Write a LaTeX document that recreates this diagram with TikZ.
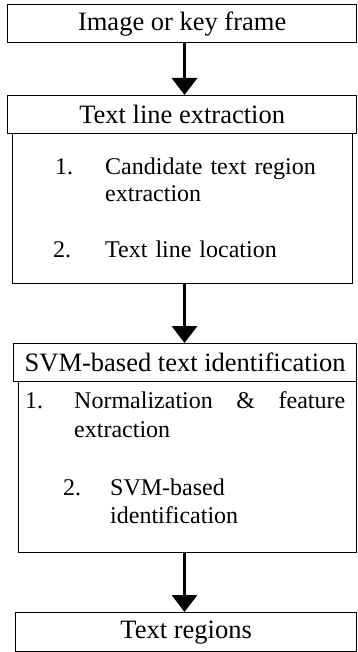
\documentclass[tikz,border=0pt]{standalone}
\usepackage{fontspec}
\setmainfont{Liberation Serif}
\usetikzlibrary{arrows.meta}

\tikzset{
  box/.style={draw, line width=1.3pt, inner sep=0pt, anchor=north west,
    font=\fontsize{26.5}{30}\selectfont},
  itemnum/.style={anchor=base west, inner sep=0pt, text width=30pt,
    font=\fontsize{24}{27}\selectfont},
  itemtxt/.style={anchor=base west, inner sep=0pt, align=left,
    font=\fontsize{24}{27}\selectfont},
  flow/.style={line width=3.5pt, -{Triangle[width=25pt,length=17pt]}}
}

\begin{document}
\begin{tikzpicture}[x=1pt, y=-1pt]
\useasboundingbox (0,0) rectangle (357,652);

% Eingang
\node[box, minimum width=349pt, minimum height=38pt] (img) at (7,4) {Image or key frame};

% Textzeilen-Extraktion
\node[box, minimum width=349pt, minimum height=38pt] (tle) at (7,95) {Text line extraction};
\node[box, minimum width=340pt, minimum height=150pt] (tlebody) at (12,133) {};
\node[itemnum] (n11) at (55,175) {1.};
\node[itemtxt, text width=240pt] (t11) at (105,175) {Candidate text region\\extraction};
\node[itemnum] (n12) at (53,257) {2.};
\node[itemtxt, text width=240pt] (t12) at (105,257) {Text line location};

% SVM-Identifikation
\node[box, minimum width=343pt, minimum height=38pt] (svm) at (13,343) {SVM-based text identification};
\node[box, minimum width=338pt, minimum height=171pt] (svmbody) at (18,381) {};
\node[itemnum] (n21) at (25,408) {1.};
\node[itemtxt, text width=271pt, align=justify,
  font=\fontsize{24}{29}\selectfont] (t21) at (74,408)
  {Normalization \& feature\linebreak extraction};
\node[itemnum] (n22) at (63,495) {2.};
\node[itemtxt, text width=200pt, font=\fontsize{24}{28}\selectfont] (t22) at (110,495)
  {SVM-based\\identification};

% Ausgang
\node[box, minimum width=341pt, minimum height=39pt] (out) at (15,612) {Text regions};

% Pfeile
\coordinate (ax) at (184.5,0);
\draw[flow] (ax |- img.south) -- (ax |- tle.north);
\draw[flow] (ax |- tlebody.south) -- (ax |- svm.north);
\draw[flow] (ax |- svmbody.south) -- (ax |- out.north);

\end{tikzpicture}
\end{document}
